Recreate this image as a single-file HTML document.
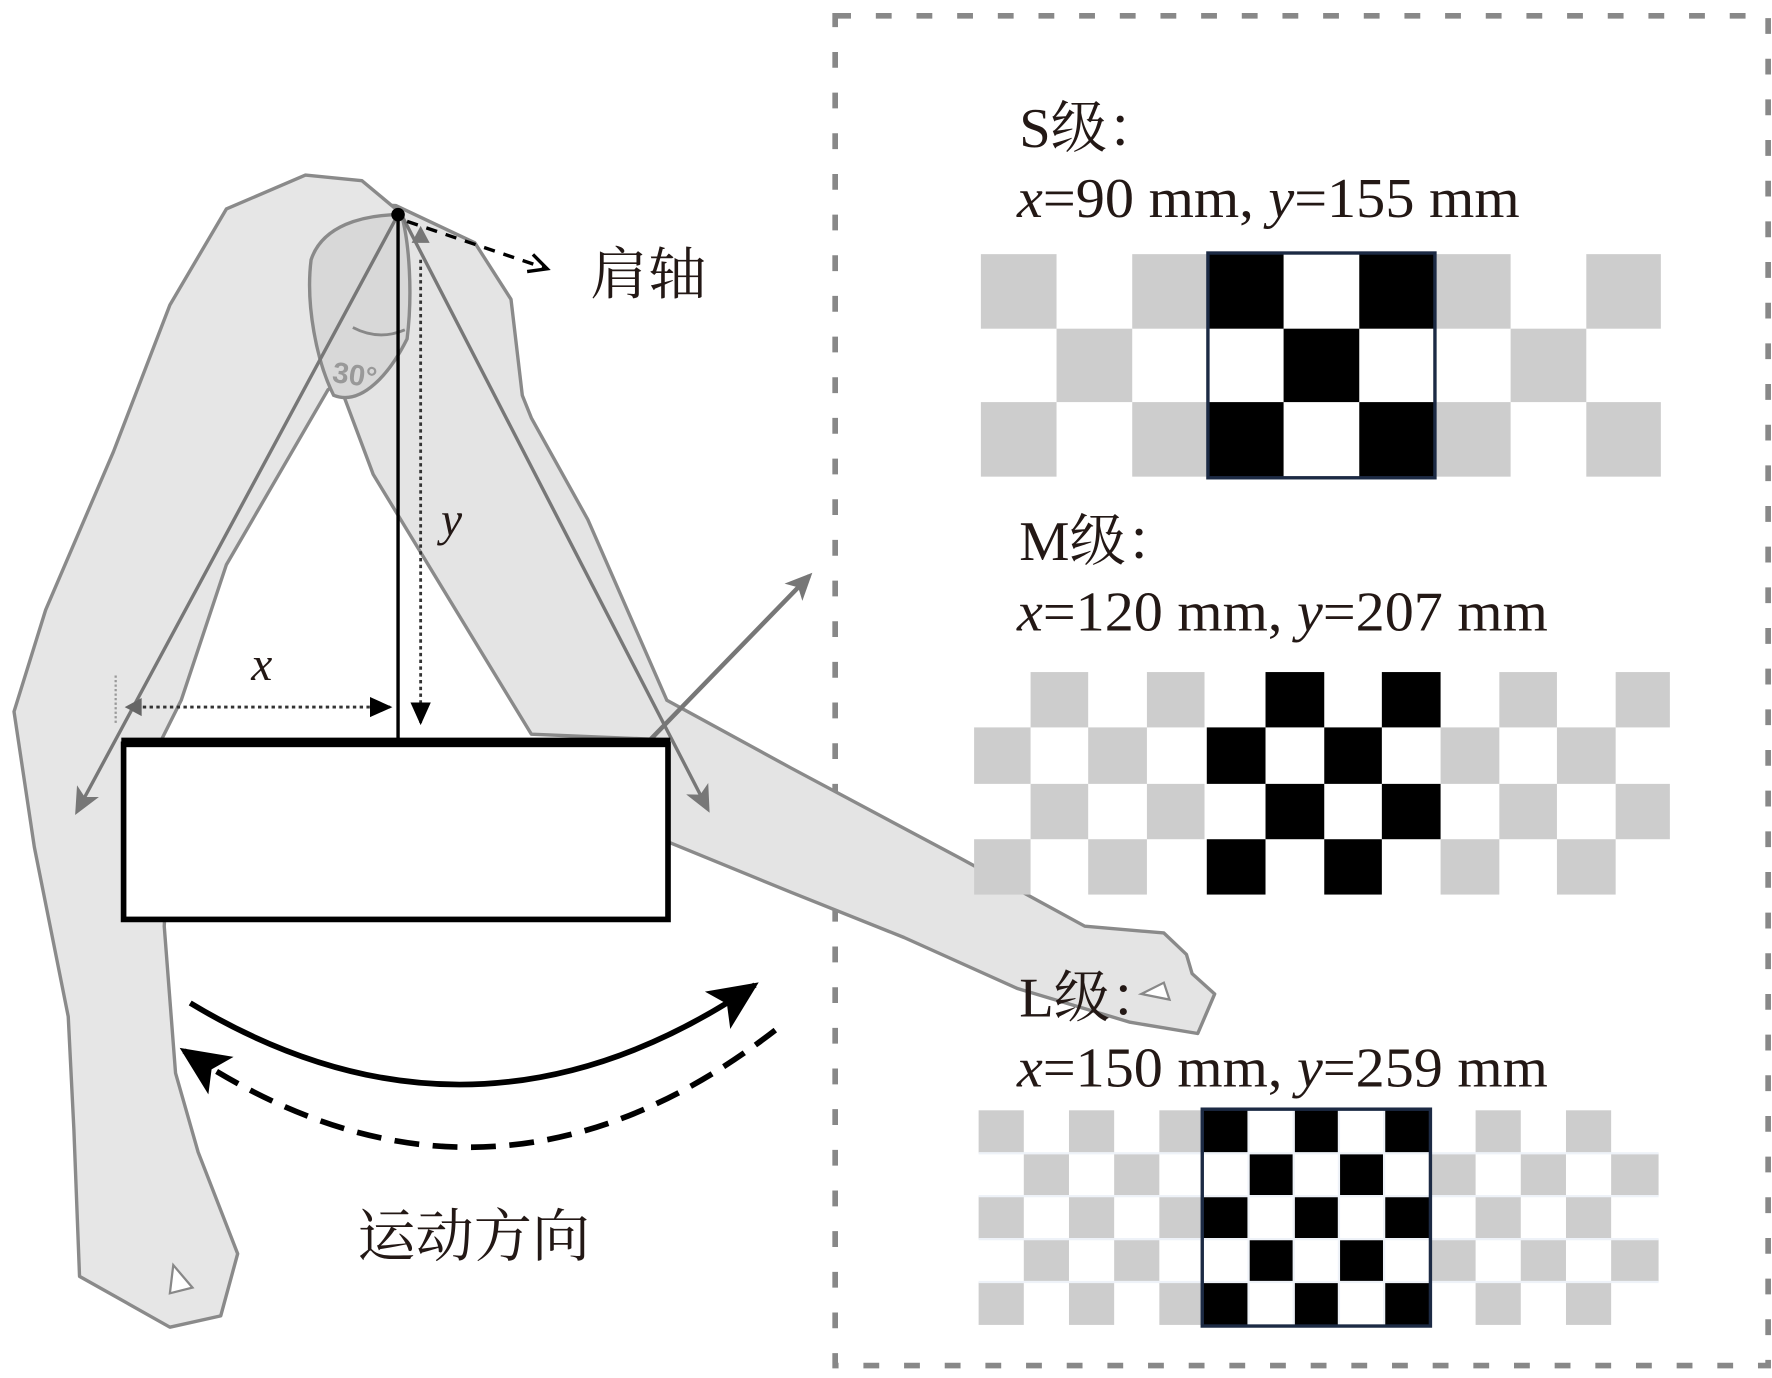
<!DOCTYPE html>
<html><head><meta charset="utf-8"><style>
html,body{margin:0;padding:0;background:#fff;}
svg{display:block;}
.t{font-family:"Liberation Serif","Noto Serif CJK SC",serif;fill:#231815;}
</style></head><body>
<svg width="1772" height="1378" viewBox="0 0 1568 1220" xmlns="http://www.w3.org/2000/svg">
<defs>
<marker id="agr" markerWidth="28" markerHeight="28" refX="20" refY="14" orient="auto" markerUnits="userSpaceOnUse"><path d="M0,3 L24,14 L0,25 L6,14 Z" fill="#777"/></marker>
<marker id="ab" markerWidth="22" markerHeight="22" refX="18" refY="11" orient="auto" markerUnits="userSpaceOnUse"><path d="M0,2 L20,11 L0,20 Z" fill="#000"/></marker>
<marker id="abig" markerWidth="50" markerHeight="50" refX="40" refY="25" orient="auto" markerUnits="userSpaceOnUse"><path d="M0,5 L44,25 L0,45 L10,25 Z" fill="#000"/></marker>
<marker id="aopen" markerWidth="22" markerHeight="22" refX="18" refY="11" orient="auto" markerUnits="userSpaceOnUse"><path d="M2,3 L18,11 L2,19" fill="none" stroke="#000" stroke-width="3"/></marker>
</defs>

<rect x="739" y="14" width="826" height="1195" fill="none" stroke="#888" stroke-width="5" stroke-dasharray="14 22"/>

<path d="M300,180 L350,182 L420,215 L452,265 L462,350 L470,370 L520,460 L590,620 L700,680 L850,760 L960,820 L1030,826 L1050,845 L1055,862 L1075,880 L1060,915 L1000,905 L900,875 L800,830 L700,790 L590,745 L590,655 L470,650 L330,420 L300,340 Z" fill="#e4e4e4" stroke="#8a8a8a" stroke-width="3" stroke-linejoin="round"/>
<path d="M350,185 L320,160 L270,155 L200,185 L150,270 L100,400 L40,540 L12,630 L30,750 L60,900 L65,1000 L70,1130 L150,1175 L195,1165 L210,1110 L175,1020 L155,950 L145,820 L150,720 L140,660 L160,620 L200,500 L290,345 L330,320 L350,280 Z" fill="#e6e6e6" stroke="#8a8a8a" stroke-width="3" stroke-linejoin="round"/>
<path d="M355,190 C320,190 285,200 275,230 C270,270 280,320 295,350 C320,360 345,330 360,300 C365,260 362,215 355,190 Z" fill="#d8d8d8" stroke="#8a8a8a" stroke-width="3"/>
<path d="M312,290 Q335,302 358,292" fill="none" stroke="#888" stroke-width="2.5"/>
<text x="293" y="338" font-family="Liberation Sans,sans-serif" font-size="26" font-weight="bold" fill="#999" transform="rotate(8 293 338)">30°</text>
<path d="M153,1120 L170,1140 L150,1145 Z" fill="#fff" stroke="#888" stroke-width="2"/>
<path d="M1010,880 L1030,870 L1035,885 Z" fill="#fff" stroke="#888" stroke-width="2"/>

<line x1="352" y1="190" x2="68" y2="718" stroke="#777" stroke-width="3" marker-end="url(#agr)"/>
<line x1="356" y1="192" x2="626" y2="716" stroke="#777" stroke-width="3" marker-end="url(#agr)"/>
<line x1="548" y1="683" x2="716" y2="510" stroke="#777" stroke-width="4" marker-end="url(#agr)"/>
<path d="M364,215 L372,200 L380,215 Z" fill="#777"/>

<rect x="109" y="659" width="482" height="155" fill="#fff" stroke="#000" stroke-width="5"/>
<line x1="107" y1="655" x2="593" y2="655" stroke="#000" stroke-width="4"/>

<line x1="352" y1="190" x2="352" y2="655" stroke="#000" stroke-width="3"/>
<line x1="372" y1="230" x2="372" y2="640" stroke="#333" stroke-width="2.5" stroke-dasharray="3 3" marker-end="url(#ab)"/>
<line x1="120" y1="626" x2="345" y2="626" stroke="#333" stroke-width="2.5" stroke-dasharray="3 3" marker-end="url(#ab)"/>
<path d="M125,618 L110,626 L125,634 Z" fill="#666"/>
<line x1="102" y1="598" x2="102" y2="640" stroke="#999" stroke-width="2" stroke-dasharray="2 2"/>
<circle cx="352" cy="190" r="6" fill="#000"/>
<line x1="360" y1="196" x2="484" y2="238" stroke="#000" stroke-width="3" stroke-dasharray="10 8" marker-end="url(#aopen)"/>

<text class="t" x="222" y="602" font-size="42" font-style="italic">x</text>
<text class="t" x="390" y="474" font-size="42" font-style="italic">y</text>
<text class="t" x="522" y="260" font-size="50" textLength="103" lengthAdjust="spacingAndGlyphs">肩轴</text>

<path d="M168,888 Q420,1040 668,872" fill="none" stroke="#000" stroke-width="5" marker-end="url(#abig)"/>
<path d="M686,912 Q430,1110 162,930" fill="none" stroke="#000" stroke-width="5" stroke-dasharray="22 12" marker-end="url(#abig)"/>
<text class="t" x="316" y="1112" font-size="51" textLength="206" lengthAdjust="spacingAndGlyphs">运动方向</text>

<text class="t" x="902" y="130" font-size="50">S级：</text>
<text class="t" x="900" y="192" font-size="50" textLength="445" lengthAdjust="spacingAndGlyphs"><tspan font-style="italic">x</tspan>=90 mm, <tspan font-style="italic">y</tspan>=155 mm</text>
<text class="t" x="902" y="496" font-size="50">M级：</text>
<text class="t" x="900" y="558" font-size="50" textLength="470" lengthAdjust="spacingAndGlyphs"><tspan font-style="italic">x</tspan>=120 mm, <tspan font-style="italic">y</tspan>=207 mm</text>
<text class="t" x="902" y="900" font-size="50">L级：</text>
<text class="t" x="900" y="962" font-size="50" textLength="470" lengthAdjust="spacingAndGlyphs"><tspan font-style="italic">x</tspan>=150 mm, <tspan font-style="italic">y</tspan>=259 mm</text>

<g>
<rect x="868" y="225" width="602" height="197" fill="#fff"/>
<g fill="#cdcdcd">
<rect x="868" y="225" width="67" height="66"/><rect x="1002" y="225" width="67" height="66"/>
<rect x="935" y="291" width="67" height="65"/>
<rect x="868" y="356" width="67" height="66"/><rect x="1002" y="356" width="67" height="66"/>
<rect x="1270" y="225" width="67" height="66"/><rect x="1404" y="225" width="66" height="66"/>
<rect x="1337" y="291" width="67" height="65"/>
<rect x="1270" y="356" width="67" height="66"/><rect x="1404" y="356" width="66" height="66"/>
</g>
<g fill="#000">
<rect x="1069" y="225" width="67" height="66"/><rect x="1203" y="225" width="67" height="66"/>
<rect x="1136" y="291" width="67" height="65"/>
<rect x="1069" y="356" width="67" height="66"/><rect x="1203" y="356" width="67" height="66"/>
</g>
<rect x="1069" y="224" width="201" height="199" fill="none" stroke="#1c2a44" stroke-width="3"/>
</g>

<g>
<g fill="#cdcdcd">
<rect x="912" y="595" width="51" height="49"/><rect x="1015" y="595" width="51" height="49"/><rect x="1327" y="595" width="51" height="49"/><rect x="1430" y="595" width="48" height="49"/>
<rect x="862" y="644" width="50" height="50"/><rect x="963" y="644" width="52" height="50"/><rect x="1275" y="644" width="52" height="50"/><rect x="1378" y="644" width="52" height="50"/>
<rect x="912" y="694" width="51" height="49"/><rect x="1015" y="694" width="51" height="49"/><rect x="1327" y="694" width="51" height="49"/><rect x="1430" y="694" width="48" height="49"/>
<rect x="862" y="743" width="50" height="49"/><rect x="963" y="743" width="52" height="49"/><rect x="1275" y="743" width="52" height="49"/><rect x="1378" y="743" width="52" height="49"/>
</g>
<g fill="#000">
<rect x="1120" y="595" width="52" height="49"/><rect x="1223" y="595" width="52" height="49"/>
<rect x="1068" y="644" width="52" height="50"/><rect x="1172" y="644" width="51" height="50"/>
<rect x="1120" y="694" width="52" height="49"/><rect x="1223" y="694" width="52" height="49"/>
<rect x="1068" y="743" width="52" height="49"/><rect x="1172" y="743" width="51" height="49"/>
</g>
</g>

<g>
<rect x="866" y="983" width="602" height="190" fill="#fff"/>
<g fill="#cdcdcd">
<rect x="866" y="983" width="40" height="38"/><rect x="946" y="983" width="40" height="38"/><rect x="1026" y="983" width="38" height="38"/><rect x="1306" y="983" width="40" height="38"/><rect x="1386" y="983" width="40" height="38"/>
<rect x="906" y="1021" width="40" height="38"/><rect x="986" y="1021" width="40" height="38"/><rect x="1266" y="1021" width="40" height="38"/><rect x="1346" y="1021" width="40" height="38"/><rect x="1426" y="1021" width="42" height="38"/>
<rect x="866" y="1059" width="40" height="38"/><rect x="946" y="1059" width="40" height="38"/><rect x="1026" y="1059" width="38" height="38"/><rect x="1306" y="1059" width="40" height="38"/><rect x="1386" y="1059" width="40" height="38"/>
<rect x="906" y="1097" width="40" height="38"/><rect x="986" y="1097" width="40" height="38"/><rect x="1266" y="1097" width="40" height="38"/><rect x="1346" y="1097" width="40" height="38"/><rect x="1426" y="1097" width="42" height="38"/>
<rect x="866" y="1135" width="40" height="38"/><rect x="946" y="1135" width="40" height="38"/><rect x="1026" y="1135" width="38" height="38"/><rect x="1306" y="1135" width="40" height="38"/><rect x="1386" y="1135" width="40" height="38"/>
</g>
<g fill="#000">
<rect x="1064" y="983" width="41" height="38"/><rect x="1145" y="983" width="40" height="38"/><rect x="1225" y="983" width="41" height="38"/>
<rect x="1105" y="1021" width="40" height="38"/><rect x="1185" y="1021" width="40" height="38"/>
<rect x="1064" y="1059" width="41" height="38"/><rect x="1145" y="1059" width="40" height="38"/><rect x="1225" y="1059" width="41" height="38"/>
<rect x="1105" y="1097" width="40" height="38"/><rect x="1185" y="1097" width="40" height="38"/>
<rect x="1064" y="1135" width="41" height="38"/><rect x="1145" y="1135" width="40" height="38"/><rect x="1225" y="1135" width="41" height="38"/>
</g>
<g stroke="#eef2f8" stroke-width="2">
<line x1="866" y1="1021" x2="1468" y2="1021"/><line x1="866" y1="1059" x2="1468" y2="1059"/><line x1="866" y1="1097" x2="1468" y2="1097"/><line x1="866" y1="1135" x2="1468" y2="1135"/>
<line x1="1105" y1="983" x2="1105" y2="1173"/><line x1="1145" y1="983" x2="1145" y2="1173"/><line x1="1185" y1="983" x2="1185" y2="1173"/><line x1="1225" y1="983" x2="1225" y2="1173"/>
</g>
<rect x="1064" y="982" width="202" height="192" fill="none" stroke="#1c2a44" stroke-width="3"/>
</g>
</svg>
</body></html>
